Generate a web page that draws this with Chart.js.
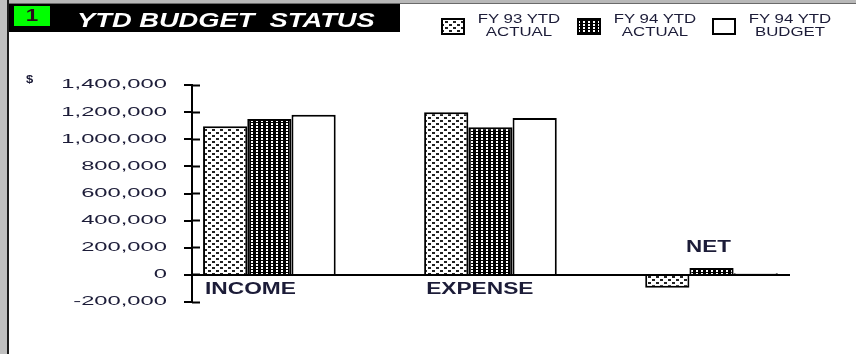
<!DOCTYPE html>
<html>
<head>
<meta charset="utf-8">
<title>YTD Budget Status</title>
<script src="https://cdn.jsdelivr.net/npm/chart.js@4/dist/chart.umd.min.js"></script>
<style>
    html, body { margin: 0; padding: 0; background: #fff; }
    #frame { position: relative; width: 856px; height: 354px; overflow: hidden; background: #fff;
             font-family: "Liberation Sans", Arial, sans-serif; }
    .edgeTop { position: absolute; left: 0; top: 0; width: 856px; height: 3px; background: #b8b8b8; border-bottom: 1px solid #6a6a6a; }
    .edgeLeft { position: absolute; left: 0; top: 0; width: 7px; height: 354px; background: #c0c0c0; border-right: 2px solid #1e1e1e; }
    #chart { position: absolute; left: 0; top: 0; }
    .titleBar { position: absolute; left: 9px; top: 4px; width: 391px; height: 28px; background: #000; }
    .titleBar .num { position: absolute; left: 5px; top: 2px; width: 36px; height: 20px; background: #00ff00; }
    .titleBar .num span { position: absolute; left: 0; top: 0; width: 36px; text-align: center; line-height: 20px;
                          font-weight: bold; font-size: 16px; color: #2a0c1c; transform: scaleX(1.4); }
    .titleBar .txt { position: absolute; left: 68px; top: 6px; line-height: 20px; color: #fff; white-space: pre;
                     font-style: italic; font-weight: bold; font-size: 19.5px; transform: scaleX(1.4); transform-origin: left top; }
    .dollar { position: absolute; left: 26px; top: 74px; font-weight: bold; font-size: 10px; color: #1c1c38;
              transform: scaleX(1.3); transform-origin: left top; }
    .legItem { position: absolute; top: 0; height: 40px; width: 130px; }
    .legItem canvas { position: absolute; left: 0; top: 18px; }
    .legItem .lab { position: absolute; left: 38px; top: 13px; width: 80px; text-align: center; font-size: 12px;
                    line-height: 13px; color: #1c1c38; transform: scaleX(1.4); }
</style>
</head>
<body>
<div id="frame">
    <div class="edgeTop"></div>
    <div class="edgeLeft"></div>
    <canvas id="chart" width="856" height="354"></canvas>
    <div class="titleBar">
        <div class="num"><span>1</span></div>
        <div class="txt">YTD BUDGET  STATUS</div>
    </div>
    <div class="dollar">$</div>
    <div id="legend"></div>
</div>

<script>
// Dados
var categories  = ['INCOME', 'EXPENSE', 'NET'];
var seriesNames = [['FY 93 YTD', 'ACTUAL'], ['FY 94 YTD', 'ACTUAL'], ['FY 94 YTD', 'BUDGET']];
var fy93Actual  = [1095000, 1200000, -95000];
var fy94Actual  = [1150000, 1088000, 50000];
var fy94Budget  = [1180000, 1156000, 12000];
var yMin = -200000, yMax = 1400000, yStep = 200000;

var seriesValues = [fy93Actual, fy94Actual, fy94Budget];
var seriesFills  = ['dash', 'dots', 'plain'];

// hachuras dos graficos antigos
function makePattern(kind, ctx) {
    var c = document.createElement('canvas'), g;
    if (kind === 'dash') {
        c.width = 8; c.height = 6;
        g = c.getContext('2d');
        g.fillStyle = '#fff'; g.fillRect(0, 0, 8, 6);
        g.fillStyle = '#222';
        g.fillRect(0, 0, 3, 2);
        g.fillRect(4, 3, 3, 2);
    } else if (kind === 'dots') {
        c.width = 5; c.height = 3;
        g = c.getContext('2d');
        g.fillStyle = '#000'; g.fillRect(0, 0, 5, 3);
        g.fillStyle = '#fff'; g.fillRect(1, 0, 2, 2);
    } else {
        return '#fff';
    }
    return ctx.createPattern(c, 'repeat');
}

// texto esticado na horizontal, como no original
function stretchText(ctx, text, x, y, sx) {
    ctx.save();
    ctx.translate(x, y);
    ctx.scale(sx, 1);
    ctx.fillText(text, 0, 0);
    ctx.restore();
}

var catPct = 0.6;

var textPlugin = {
    id: 'stretchedText',
    afterDraw: function(chart) {
        var ctx = chart.ctx, ys = chart.scales.y, xs = chart.scales.x;
        var zero = ys.getPixelForValue(0);
        var gap = xs.getPixelForValue(1) - xs.getPixelForValue(0);

        ctx.save();
        ctx.fillStyle = '#1c1c38';

        // valores do eixo y
        ctx.font = '12.5px "Liberation Sans", Arial, sans-serif';
        ctx.textAlign = 'right';
        ctx.textBaseline = 'middle';
        ys.ticks.forEach(function(t) {
            stretchText(ctx, t.label, ys.right - 25, ys.getPixelForValue(t.value), 1.9);
        });

        // nomes das categorias
        ctx.font = 'bold 16px "Liberation Sans", Arial, sans-serif';
        ctx.textBaseline = 'alphabetic';
        categories.forEach(function(name, i) {
            var cx = xs.getPixelForValue(i);
            var low = Math.min.apply(null, seriesValues.map(function(s) { return s[i]; }));
            if (low < 0) {
                ctx.textAlign = 'center';
                stretchText(ctx, name, cx - 3, zero - 23, 1.4);
            } else {
                ctx.textAlign = 'left';
                stretchText(ctx, name, cx - gap * catPct / 2 + 2, zero + 19, 1.42);
            }
        });
        ctx.restore();
    }
};

var canvas = document.getElementById('chart');
var ctx = canvas.getContext('2d');

var datasets = seriesValues.map(function(vals, k) {
    return {
        label: seriesNames[k].join(' '),
        data: vals.map(function(v, i) { return {x: i, y: v}; }),
        backgroundColor: makePattern(seriesFills[k], ctx),
        borderColor: '#000',
        borderWidth: 2,
        categoryPercentage: catPct,
        barPercentage: 1.0
    };
});

new Chart(ctx, {
    type: 'bar',
    data: { datasets: datasets },
    options: {
        responsive: false,
        animation: false,
        devicePixelRatio: 1,
        layout: { padding: { left: 0, right: 66, top: 85, bottom: 52 } },
        plugins: {
            legend: { display: false },
            title: { display: false },
            tooltip: { enabled: false }
        },
        scales: {
            x: {
                type: 'linear',
                display: false,
                offset: false,
                bounds: 'data',
                min: -0.35,
                max: 2.355,
                afterBuildTicks: function(s) {
                    s.ticks = categories.map(function(c, i) { return {value: i}; });
                }
            },
            y: {
                position: 'left',
                weight: 1,
                min: yMin,
                max: yMax,
                ticks: { stepSize: yStep, display: false },
                border: { display: true, color: '#000', width: 2 },
                grid: {
                    drawOnChartArea: true,
                    color: function(c) { return c.tick && c.tick.value === 0 ? '#000' : 'rgba(0,0,0,0)'; },
                    lineWidth: 2,
                    tickColor: '#000',
                    tickWidth: 2,
                    tickLength: 8
                },
                afterFit: function(s) { s.width = 192; }
            },
            y2: {
                position: 'left',
                weight: 0,
                min: yMin,
                max: yMax,
                ticks: { stepSize: yStep, display: false },
                border: { display: false },
                grid: { drawOnChartArea: false, tickColor: '#000', tickWidth: 2, tickLength: -8 },
                afterFit: function(s) { s.width = 0; }
            }
        }
    },
    plugins: [textPlugin]
});

// legenda feita a mao (texto em duas linhas)
var legend = document.getElementById('legend');
var legLeft = [441, 577, 712];
seriesNames.forEach(function(lines, k) {
    var item = document.createElement('div');
    item.className = 'legItem';
    item.style.left = legLeft[k] + 'px';

    var sw = document.createElement('canvas');
    sw.width = 24; sw.height = 17;
    var g = sw.getContext('2d');
    g.fillStyle = makePattern(seriesFills[k], g);
    g.fillRect(0, 0, 24, 17);
    g.strokeStyle = '#000';
    g.lineWidth = 2;
    g.strokeRect(1, 1, 22, 15);
    item.appendChild(sw);

    var lab = document.createElement('div');
    lab.className = 'lab';
    lab.innerHTML = lines.join('<br>');
    item.appendChild(lab);

    legend.appendChild(item);
});
</script>
</body>
</html>
